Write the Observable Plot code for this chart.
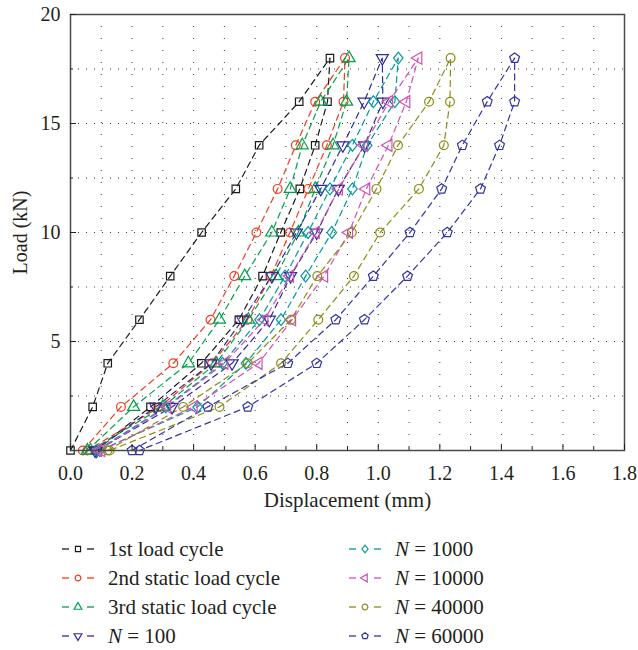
<!DOCTYPE html>
<html><head><meta charset="utf-8">
<script src="https://cdn.jsdelivr.net/npm/d3@7"></script>
<script src="https://cdn.jsdelivr.net/npm/@observablehq/plot@0.6"></script>
<style>
body{margin:0;background:#fff;width:638px;height:650px;overflow:hidden;font-family:"Liberation Serif",serif;position:relative;}
#chart{position:absolute;left:0;top:0;}
#chart svg, #chart svg text{font-family:"Liberation Serif","Times New Roman",serif !important;}
.leg{position:absolute;height:24px;font-size:21px;color:#231f20;display:flex;align-items:center;white-space:nowrap;}
.leg svg{margin-right:10px;}
</style></head><body>
<div id="chart"></div>
<div id="legend"></div>
<script>
// Load levels: loading 0→18 kN then unloading 18→0 kN
const loads = [0,2,4,6,8,10,12,14,16,18,16,14,12,10,8,6,4,2,0];

const seriesNames = ["1st load cycle","2nd static load cycle","3rd static load cycle","N = 100","N = 1000","N = 10000","N = 40000","N = 60000"];
const seriesColors = ["#1a1a1a","#f03c1e","#00a04b","#2e2a9a","#009a9a","#d24fb5","#8c8c14","#3434a2"];

// Displacement (mm) for each load step above
const dispCycle1   = [0.000,0.072,0.121,0.224,0.324,0.426,0.537,0.613,0.743,0.843,0.835,0.795,0.745,0.683,0.624,0.547,0.425,0.260,0.080];
const dispCycle2   = [0.040,0.164,0.334,0.455,0.532,0.604,0.673,0.732,0.795,0.892,0.887,0.833,0.773,0.713,0.651,0.575,0.460,0.290,0.055];
const dispCycle3   = [0.055,0.205,0.383,0.484,0.566,0.654,0.714,0.753,0.813,0.905,0.897,0.853,0.795,0.740,0.668,0.578,0.473,0.300,0.065];
const dispN100     = [0.080,0.277,0.457,0.559,0.654,0.734,0.813,0.885,0.954,1.013,1.015,0.955,0.870,0.800,0.715,0.646,0.525,0.330,0.085];
const dispN1000    = [0.085,0.310,0.494,0.614,0.697,0.772,0.843,0.916,0.984,1.065,1.054,0.964,0.916,0.849,0.764,0.684,0.570,0.413,0.095];
const dispN10000   = [0.090,0.314,0.500,0.630,0.713,0.797,0.872,0.954,1.035,1.130,1.091,1.033,0.961,0.905,0.824,0.720,0.611,0.400,0.100];
const dispN40000   = [0.120,0.366,0.576,0.716,0.802,0.914,0.994,1.064,1.165,1.235,1.233,1.213,1.132,1.006,0.921,0.805,0.684,0.484,0.127];
const dispN60000   = [0.200,0.446,0.706,0.862,0.984,1.103,1.206,1.273,1.354,1.443,1.443,1.394,1.332,1.224,1.095,0.955,0.800,0.576,0.224];

const xTicks = [0,0.2,0.4,0.6,0.8,1.0,1.2,1.4,1.6,1.8];
const xMinorTicks = [0.1,0.3,0.5,0.7,0.9,1.1,1.3,1.5,1.7];
const xGrid = [0.1,0.2,0.3,0.4,0.5,0.6,0.7,0.8,0.9,1.0,1.1,1.2,1.3,1.4,1.5,1.6,1.7];
const yTicks = [5,10,15,20];
const yMinorTicks = [2.5,7.5,12.5,17.5];
const yGrid = [2.5,5,7.5,10,12.5,15,17.5];

const sqrt3 = Math.sqrt(3);
const triDown = {draw(ctx, size){const y=-Math.sqrt(size/(sqrt3*3));ctx.moveTo(0,-y*2);ctx.lineTo(-sqrt3*y,y);ctx.lineTo(sqrt3*y,y);ctx.closePath();}};
const triUp = {draw(ctx, size){const y=-Math.sqrt(size/(sqrt3*3));ctx.moveTo(0,y*2);ctx.lineTo(-sqrt3*y,-y);ctx.lineTo(sqrt3*y,-y);ctx.closePath();}};
const triLeft = {draw(ctx, size){const y=-Math.sqrt(size/(sqrt3*3));ctx.moveTo(y*2,0);ctx.lineTo(-y,-sqrt3*y);ctx.lineTo(-y,sqrt3*y);ctx.closePath();}};
const pentagon = {draw(ctx, size){const r=Math.sqrt(size/(2.5*Math.sin(2*Math.PI/5)));for(let k=0;k<5;k++){const a=-Math.PI/2+k*2*Math.PI/5;const px=r*Math.cos(a),py=r*Math.sin(a);k?ctx.lineTo(px,py):ctx.moveTo(px,py);}ctx.closePath();}};
const diamond = {draw(ctx, size){const r=Math.sqrt(size/2)*1.05;ctx.moveTo(0,-r);ctx.lineTo(r*0.8,0);ctx.lineTo(0,r);ctx.lineTo(-r*0.8,0);ctx.closePath();}};
const seriesSymbols = [d3.symbolSquare, d3.symbolCircle, triUp, triDown, diamond, triLeft, d3.symbolCircle, pentagon];
const seriesSizes = [4.2, 4.4, 4.5, 4.5, 4.5, 4.5, 4.4, 4.5];

const allDisp = [dispCycle1,dispCycle2,dispCycle3,dispN100,dispN1000,dispN10000,dispN40000,dispN60000];
const rows = [];
allDisp.forEach((arr, i) => arr.forEach((d, j) => rows.push({series: seriesNames[i], disp: d, load: loads[j]})));

const font = '"Liberation Serif", "Times New Roman", serif';
const marks = [
  Plot.gridX(xGrid, {stroke: "#3a3a3a", strokeOpacity: 1, strokeWidth: 1, strokeDasharray: "1,11"}),
  Plot.gridY(yGrid, {stroke: "#3a3a3a", strokeOpacity: 1, strokeWidth: 1, strokeDasharray: "1,7"}),
  Plot.line(rows, {x: "disp", y: "load", z: "series", stroke: "series", strokeWidth: 1.2, strokeDasharray: "6,4.5"})
];
seriesNames.forEach((name, i) => {
  marks.push(Plot.dot(rows.filter(r => r.series === name), {x: "disp", y: "load", stroke: seriesColors[i], fill: "none", strokeWidth: 1.2, symbol: seriesSymbols[i], r: seriesSizes[i]}));
});
marks.push(
  Plot.frame({stroke: "#4a4a4a", strokeWidth: 1.5}),
  Plot.axisX(xTicks, {anchor: "bottom", tickSize: -6, tickPadding: 21, tickFormat: d => d.toFixed(1), label: null, fontSize: 20}),
  Plot.axisX(xMinorTicks, {anchor: "bottom", tickSize: -3, tickFormat: () => "", label: null}),
  Plot.axisY(yTicks, {anchor: "left", tickSize: -6, tickPadding: 16, label: null, fontSize: 20}),
  Plot.axisY(yMinorTicks, {anchor: "left", tickSize: -3, tickFormat: () => "", label: null}),
  Plot.text(["Displacement (mm)"], {frameAnchor: "bottom", lineAnchor: "middle", textAnchor: "middle", dy: 50, fontSize: 21, fontFamily: font}),
  Plot.text(["Load (kN)"], {frameAnchor: "left", textAnchor: "middle", lineAnchor: "middle", rotate: -90, dx: -50, fontSize: 20, fontFamily: font})
);

const chart = Plot.plot({
  width: 638, height: 515,
  marginLeft: 70, marginRight: 14, marginTop: 14, marginBottom: 65,
  style: {fontFamily: font, fontSize: "20px", color: "#231f20"},
  x: {domain: [0, 1.8]},
  y: {domain: [0, 20]},
  color: {domain: seriesNames, range: seriesColors},
  marks
});
document.getElementById("chart").appendChild(chart);

// Legend
const legend = document.getElementById("legend");
const legendRows = [549, 578, 607, 636];
seriesNames.forEach((name, i) => {
  const col = i < 4 ? 0 : 1;
  const row = i % 4;
  const div = document.createElement("div");
  div.className = "leg";
  div.style.left = (col === 0 ? 58 : 345) + "px";
  div.style.top = (legendRows[row] - 12) + "px";
  const svg = d3.create("svg").attr("width", 40).attr("height", 24);
  svg.append("line").attr("x1", 4).attr("x2", 11).attr("y1", 12).attr("y2", 12).attr("stroke", seriesColors[i]).attr("stroke-width", 1.3);
  svg.append("line").attr("x1", 29).attr("x2", 36).attr("y1", 12).attr("y2", 12).attr("stroke", seriesColors[i]).attr("stroke-width", 1.3);
  svg.append("path").attr("transform", "translate(20,12)")
    .attr("d", d3.symbol().type(seriesSymbols[i]).size(26)())
    .attr("fill", "none").attr("stroke", seriesColors[i]).attr("stroke-width", 1.2);
  div.appendChild(svg.node());
  const span = document.createElement("span");
  if (name.startsWith("N = ")) {
    span.innerHTML = "<i>N</i> = " + name.slice(4);
  } else {
    span.textContent = name;
  }
  div.appendChild(span);
  legend.appendChild(div);
});
</script>
</body></html>
